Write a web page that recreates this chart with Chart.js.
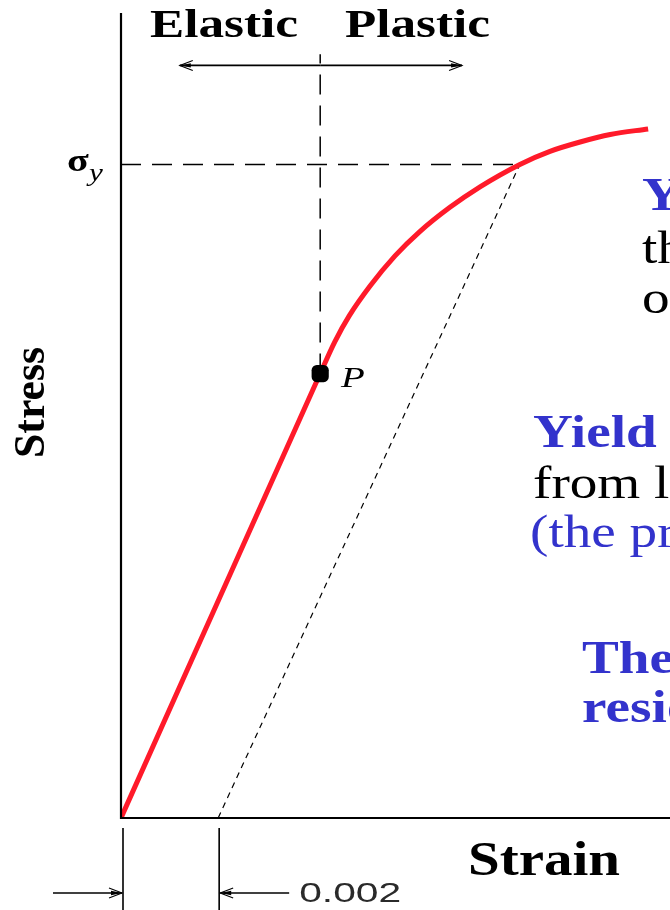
<!DOCTYPE html>
<html><head><meta charset="utf-8">
<script src="https://cdn.jsdelivr.net/npm/chart.js@4/dist/chart.umd.min.js"></script>
<style>html,body{margin:0;padding:0;background:#fff;overflow:hidden}canvas{display:block}</style>
</head><body>
<canvas id="c" width="670" height="910"></canvas>
<script>
// ---- data ----
const strain = [0, 0.0041, 0.0044, 0.0047, 0.00513, 0.00564, 0.00615, 0.00677, 0.00739, 0.00821, 0.00883, 0.00945, 0.01007, 0.01085];
const stress = [0, 238, 255, 269, 285, 301, 314, 327, 338, 350, 357, 362, 366, 369];
const pointPStrain = 0.0041;
const pointPStress = 238;
const yieldStress = 350;
const yieldStrain = 0.00821;
const offsetStrain = [0.002, 0.00821];
const offsetStress = [0, 350];
const regionLineTop = 409;
const regionArrowStress = 403;
const regionArrowStrain = [0.00121, 0.00702];
const STRAIN_MAX = 0.0113;
const STRESS_MAX = 430;
const offsetLabel = "0.002";
const regionLabels = ["Elastic", "Plastic"];
const axisLabels = ["Stress", "Strain"];
const sideText = [
  ["Yield strength σy", "#3333cc", true],
  ["the stress at which", "#000", false],
  ["occurs", "#000", false],
  ["Yield point P", "#3333cc", true],
  ["from linearity", "#000", false],
  ["(the proportional limit)", "#3333cc", false],
  ["The 0.2% offset", "#3333cc", true],
  ["residual strain", "#3333cc", true]
];

const pts = (xa, ya) => xa.map((v, i) => ({x: v, y: ya[i]}));

function txt(ctx, s, x, y, font, color, sx, sy) {
  ctx.save();
  ctx.font = font; ctx.fillStyle = color;
  ctx.textAlign = 'left'; ctx.textBaseline = 'alphabetic';
  ctx.translate(x, y); ctx.scale(sx || 1, sy || 1);
  ctx.fillText(s, 0, 0);
  ctx.restore();
}
function txtW(ctx, s, x, y, font, color, w) {
  ctx.save(); ctx.font = font;
  const m = ctx.measureText(s).width;
  ctx.restore();
  txt(ctx, s, x, y, font, color, w / m, 1);
}
function arrow(ctx, x1, y, x2) {
  const d = x2 > x1 ? 1 : -1;
  ctx.save();
  ctx.strokeStyle = '#000'; ctx.fillStyle = '#000'; ctx.lineWidth = 1.6;
  ctx.beginPath(); ctx.moveTo(x1, y); ctx.lineTo(x2, y); ctx.stroke();
  ctx.lineWidth = 1.1;
  ctx.beginPath();
  ctx.moveTo(x2 - d * 13, y - 5); ctx.lineTo(x2, y); ctx.lineTo(x2 - d * 13, y + 5);
  ctx.stroke();
  ctx.beginPath();
  ctx.moveTo(x2, y); ctx.lineTo(x2 - d * 11, y - 2.2); ctx.lineTo(x2 - d * 11, y + 2.2); ctx.closePath();
  ctx.fill();
  ctx.restore();
}

const deco = {
  id: 'deco',
  beforeDraw(chart) {
    const c = chart.ctx;
    c.save(); c.fillStyle = '#fff'; c.fillRect(0, 0, chart.width, chart.height); c.restore();
  },
  afterDraw(chart) {
    const c = chart.ctx;
    const X = v => chart.scales.x.getPixelForValue(v);
    const Y = v => chart.scales.y.getPixelForValue(v);
    const x0 = X(0), y0 = Y(0);
    // axes
    c.save();
    c.strokeStyle = '#000'; c.lineWidth = 2.2;
    c.beginPath(); c.moveTo(x0, Y(STRESS_MAX) - 2); c.lineTo(x0, y0 + 1);
    c.moveTo(x0 - 1, y0); c.lineTo(X(STRAIN_MAX) + 2, y0); c.stroke();
    // bottom reference ticks
    c.lineWidth = 1.6;
    const xo = X(offsetStrain[0]);
    c.beginPath();
    c.moveTo(x0 + 2, y0 + 10); c.lineTo(x0 + 2, 912);
    c.moveTo(xo + 1, y0 + 10); c.lineTo(xo + 1, 912);
    c.stroke();
    c.restore();
    // region arrow
    const ay = Y(regionArrowStress);
    arrow(c, X(pointPStrain), ay, X(regionArrowStrain[0]));
    arrow(c, X(pointPStrain), ay, X(regionArrowStrain[1]));
    // offset arrows
    arrow(c, x0 - 68, 893, x0 + 1);
    arrow(c, xo + 71, 893, xo + 2);
    txtW(c, offsetLabel, xo + 81, 902, '28px "Liberation Sans"', '#2a2a2a', 102);
    // region labels
    txtW(c, regionLabels[0], 150, 37, 'bold 40px "Liberation Serif"', '#000', 148);
    txtW(c, regionLabels[1], 345, 37, 'bold 40px "Liberation Serif"', '#000', 145);
    // axis titles
    c.save();
    c.translate(44, 458); c.rotate(-Math.PI / 2);
    txtW(c, axisLabels[0], 0, 0, 'bold 44px "Liberation Serif"', '#000', 111);
    c.restore();
    txtW(c, axisLabels[1], 468, 875, 'bold 48px "Liberation Serif"', '#000', 152);
    // sigma_y
    const sy = Y(yieldStress);
    txt(c, 'σ', 67, sy + 7, 'bold 32px "Liberation Serif"', '#000', 1.25, 1);
    txt(c, 'y', 89, sy + 17, 'italic 26px "Liberation Serif"', '#000', 1.2, 1);
    // P label
    txt(c, 'P', 341, Y(pointPStress) + 13, 'italic 30px "Liberation Serif"', '#000', 1.3, 1);
    // side text
    const sp = [[642, 210], [642, 263], [642, 313], [533, 447], [533, 498], [530, 547], [582, 673], [582, 722]];
    sideText.forEach((t, i) => {
      txt(c, t[0], sp[i][0], sp[i][1], (t[2] ? 'bold ' : '') + '46px "Liberation Serif"', t[1], 1.2, 1);
    });
  }
};

new Chart(document.getElementById('c'), {
  type: 'line',
  data: {
    datasets: [
      { label: 'P', data: [{x: pointPStrain, y: pointPStress}], showLine: false,
        pointStyle: 'rectRounded', pointRadius: 10, pointBackgroundColor: '#000', pointBorderWidth: 0, order: 0 },
      { label: 'curve', data: pts(strain, stress), borderColor: '#ff1a2a', borderWidth: 5,
        cubicInterpolationMode: 'monotone', pointRadius: 0, fill: false, order: 1, borderCapStyle: 'butt' },
      { label: 'offset', data: pts(offsetStrain, offsetStress), borderColor: '#000', borderWidth: 1.2,
        borderDash: [6, 5], pointRadius: 0, order: 2 },
      { label: 'yieldH', data: [{x: 0, y: yieldStress}, {x: yieldStrain, y: yieldStress}], borderColor: '#000',
        borderWidth: 1.5, borderDash: [20, 11], pointRadius: 0, order: 3 },
      { label: 'pV', data: [{x: pointPStrain, y: pointPStress}, {x: pointPStrain, y: regionLineTop}], borderColor: '#000',
        borderWidth: 1.5, borderDash: [20, 11], pointRadius: 0, order: 4 }
    ]
  },
  options: {
    responsive: false, animation: false, events: [],
    layout: { autoPadding: false, padding: { left: 121, top: 15, right: 0, bottom: 92 } },
    plugins: { legend: { display: false }, tooltip: { enabled: false } },
    scales: {
      x: { type: 'linear', min: 0, max: STRAIN_MAX, display: false },
      y: { type: 'linear', min: 0, max: STRESS_MAX, display: false }
    }
  },
  plugins: [deco]
});
</script>
</body></html>
